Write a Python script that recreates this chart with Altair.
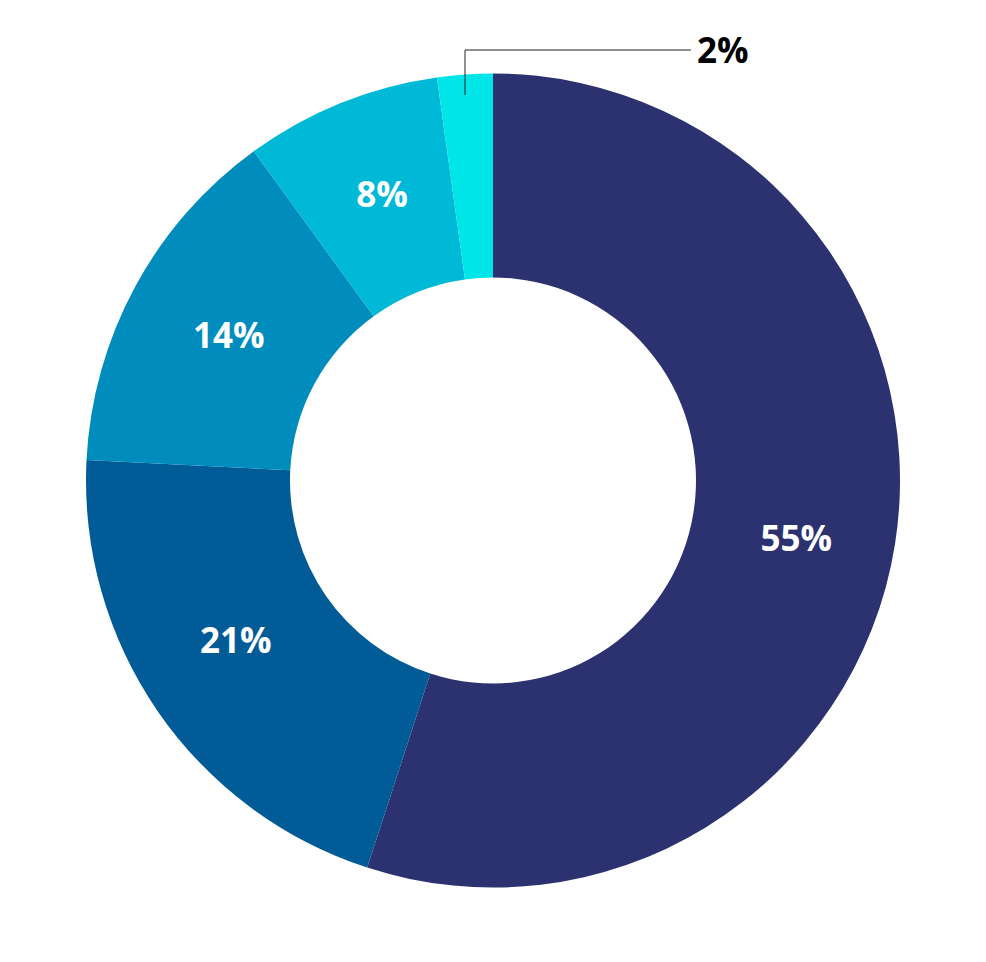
import altair as alt
import pandas as pd

categories = ["A", "B", "C", "D", "E"]
values = [55, 20.8, 14.2, 7.8, 2.2]
labels = ["55%", "21%", "14%", "8%", "2%"]
colors = ["#2C3270", "#005B96", "#008DBD", "#00B9D6", "#00E5E8"]

df = pd.DataFrame({"cat": categories, "value": values, "label": labels,
                   "order": list(range(len(values)))})
total = float(sum(values))

W, H = 970, 945

arcs = alt.Chart(df).mark_arc(innerRadius=203, outerRadius=407, strokeWidth=0).encode(
    theta=alt.Theta("value:Q", stack=True),
    order=alt.Order("order:Q"),
    color=alt.Color("cat:N", scale=alt.Scale(domain=categories, range=colors), legend=None),
)

stacked = alt.Chart(df).transform_stack(
    stack="value", groupby=[], as_=["v0", "v1"],
    sort=[alt.SortField("order", order="ascending")]
).transform_calculate(mid="(datum.v0 + datum.v1) / 2")

# small per-label nudges to match the reference placement
nudges = {"55%": (2, 12), "21%": (-6, -12), "14%": (4, 2), "8%": (3, -2)}
label_layers = []
for lab, (ddx, ddy) in nudges.items():
    label_layers.append(
        stacked.transform_filter(alt.datum.label == lab).mark_text(
            radius=305, font="Open Sans", fontWeight="bold", fontSize=35, color="white",
            align="center", baseline="middle", dx=ddx, dy=ddy
        ).encode(
            theta=alt.Theta("mid:Q", scale=alt.Scale(domain=[0, total])),
            text="label:N",
        )
    )

small = df[df["value"] < 5]
leader_v = alt.Chart(small).mark_rule(color="#222222", strokeWidth=1).encode(
    x=alt.value(457), y=alt.value(87), y2=alt.value(42)
)
leader_h = alt.Chart(small).mark_rule(color="#222222", strokeWidth=1).encode(
    x=alt.value(457), x2=alt.value(683), y=alt.value(42)
)
outer_label = alt.Chart(small).mark_text(
    font="Open Sans", fontWeight="bold", fontSize=35, color="black",
    align="left", baseline="middle"
).encode(x=alt.value(689), y=alt.value(44), text="label:N")

chart = alt.layer(arcs, *label_layers, leader_v, leader_h, outer_label).resolve_scale(
    theta="independent"
).properties(
    width=W, height=H, padding=0, autosize=alt.AutoSizeParams(type="none")
).configure_view(stroke=None)

chart.save("out.html", embed_options={"renderer": "svg", "actions": False})
